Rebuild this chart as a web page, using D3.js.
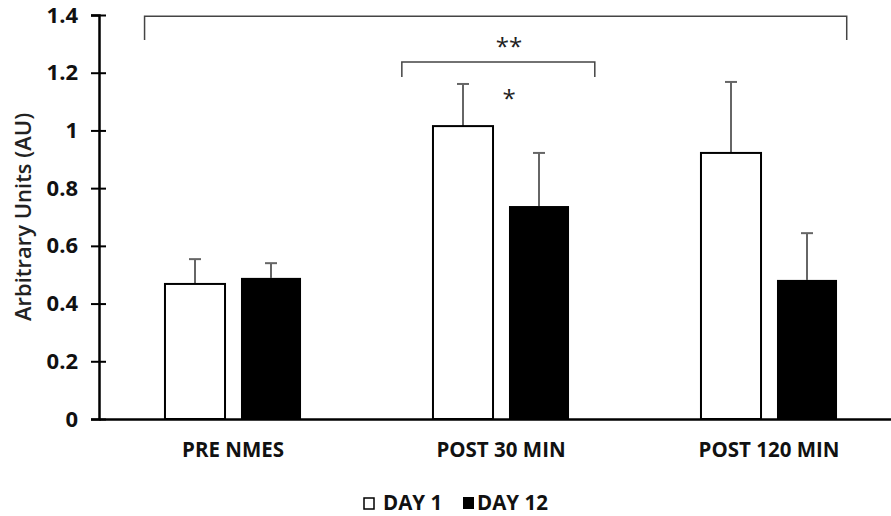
<!DOCTYPE html>
<html>
<head>
<meta charset="utf-8">
<script src="https://cdn.jsdelivr.net/npm/d3@7"></script>
<style>
  body { margin: 0; background: #fff; }
  svg text { font-family: "Open Sans", "DejaVu Sans", sans-serif; }
</style>
</head>
<body>
<div id="chart"></div>
<script>
const categories = ["PRE NMES", "POST 30 MIN", "POST 120 MIN"];
const series = ["DAY 1", "DAY 12"];
const day1 = [0.468, 1.015, 0.922];
const day12 = [0.489, 0.738, 0.482];
const day1Err = [0.086, 0.146, 0.246];
const day12Err = [0.051, 0.184, 0.162];
const yTicks = [0, 0.2, 0.4, 0.6, 0.8, 1, 1.2, 1.4];
// brackets in category-index units, heights in AU
const brackets = [
  { from: -0.33, to: 2.29, top: 1.396, bottom: 1.313 },
  { from: 0.63, to: 1.35, top: 1.237, bottom: 1.185 }
];
const marks = [
  { text: "**", pos: 1.03, value: 1.26 },
  { text: "*", pos: 1.03, value: 1.082 }
];

const width = 891, height = 516;
const colors = ["#ffffff", "#000000"];
const font = '"Open Sans", sans-serif';

const svg = d3.select("#chart").append("svg")
  .attr("width", width)
  .attr("height", height)
  .style("display", "block");

const y = d3.scaleLinear().domain([0, 1.4]).range([419, 15]);
const x0 = d3.scaleBand().domain(categories).range([99, 903]).padding(0);
const x1 = d3.scaleBand().domain(series).range([0, x0.bandwidth()])
  .paddingInner(0.21).paddingOuter(0.868);
const xIdx = d3.scaleLinear().domain([-0.5, 2.5]).range([99, 903]);

const rows = categories.map((c, i) => ({
  cat: c,
  vals: [
    { s: series[0], v: day1[i], e: day1Err[i] },
    { s: series[1], v: day12[i], e: day12Err[i] }
  ]
}));

// y axis
const yAxis = svg.append("g")
  .attr("transform", "translate(99,0)")
  .call(d3.axisLeft(y).tickValues(yTicks).tickFormat(d => d.toString()).tickSize(8).tickPadding(13))
  .attr("font-family", font);
yAxis.select(".domain").attr("stroke", "#000").attr("stroke-width", 2.5);
yAxis.selectAll(".tick line").attr("x1", 7).attr("x2", -8).attr("stroke", "#000").attr("stroke-width", 2);
yAxis.selectAll(".tick text")
  .attr("font-size", 22)
  .attr("font-weight", 700)
  .attr("fill", "#111");

// y title
svg.append("text")
  .attr("transform", "translate(23,217) rotate(-90)")
  .attr("text-anchor", "middle")
  .attr("dy", "0.35em")
  .attr("font-family", font)
  .attr("font-size", 22)
  .attr("font-weight", 600)
  .attr("fill", "#222")
  .text("Arbitrary Units (AU)");

// bars
const groups = svg.selectAll(".grp").data(rows).enter().append("g")
  .attr("transform", d => `translate(${x0(d.cat)},0)`);

groups.selectAll("line.err").data(d => d.vals).enter().append("line")
  .attr("class", "err")
  .attr("x1", d => x1(d.s) + x1.bandwidth() / 2)
  .attr("x2", d => x1(d.s) + x1.bandwidth() / 2)
  .attr("y1", d => y(d.v))
  .attr("y2", d => y(d.v + d.e))
  .attr("stroke", "#666")
  .attr("stroke-width", 2);

groups.selectAll("line.cap").data(d => d.vals).enter().append("line")
  .attr("class", "cap")
  .attr("x1", d => x1(d.s) + x1.bandwidth() / 2 - 6)
  .attr("x2", d => x1(d.s) + x1.bandwidth() / 2 + 6)
  .attr("y1", d => y(d.v + d.e))
  .attr("y2", d => y(d.v + d.e))
  .attr("stroke", "#666")
  .attr("stroke-width", 2);

groups.selectAll("rect").data(d => d.vals).enter().append("rect")
  .attr("x", d => x1(d.s))
  .attr("y", d => y(d.v))
  .attr("width", x1.bandwidth())
  .attr("height", d => y(0) - y(d.v))
  .attr("fill", (d, i) => colors[i])
  .attr("stroke", "#000")
  .attr("stroke-width", (d, i) => i === 0 ? 2 : 0);

// x axis
const xAxis = svg.append("g")
  .attr("transform", "translate(0,419)")
  .call(d3.axisBottom(x0).tickSize(0).tickPadding(0))
  .attr("font-family", font);
xAxis.select(".domain").attr("stroke", "#000").attr("stroke-width", 2.5);
xAxis.selectAll(".tick text")
  .attr("y", 31)
  .attr("dy", "0.35em")
  .attr("font-size", 20.5)
  .attr("font-weight", 700)
  .attr("fill", "#111");

// brackets
svg.selectAll(".bracket").data(brackets).enter().append("path")
  .attr("d", d => `M${xIdx(d.from)},${y(d.bottom)}V${y(d.top)}H${xIdx(d.to)}V${y(d.bottom)}`)
  .attr("fill", "none")
  .attr("stroke", "#444")
  .attr("stroke-width", 1.5);

svg.selectAll(".sig").data(marks).enter().append("text")
  .attr("x", d => xIdx(d.pos))
  .attr("y", d => y(d.value))
  .attr("text-anchor", "middle")
  .attr("font-family", font)
  .attr("font-size", 24)
  .attr("fill", "#222")
  .text(d => d.text);

// legend
const legend = svg.append("g").attr("transform", "translate(0,503)");
const legX = [363, 463];
series.forEach((s, i) => {
  legend.append("rect")
    .attr("x", legX[i] + (i === 0 ? 1 : 0))
    .attr("y", i === 0 ? -5 : -6)
    .attr("width", i === 0 ? 10 : 11)
    .attr("height", i === 0 ? 11 : 12)
    .attr("fill", colors[i])
    .attr("stroke", "#000")
    .attr("stroke-width", i === 0 ? 1.5 : 0);
  legend.append("text")
    .attr("x", legX[i] + (i === 0 ? 20 : 14))
    .attr("dy", "0.35em")
    .attr("font-family", font)
    .attr("font-size", 20.5)
    .attr("font-weight", 700)
    .attr("fill", "#111")
    .text(s);
});
</script>
</body>
</html>
